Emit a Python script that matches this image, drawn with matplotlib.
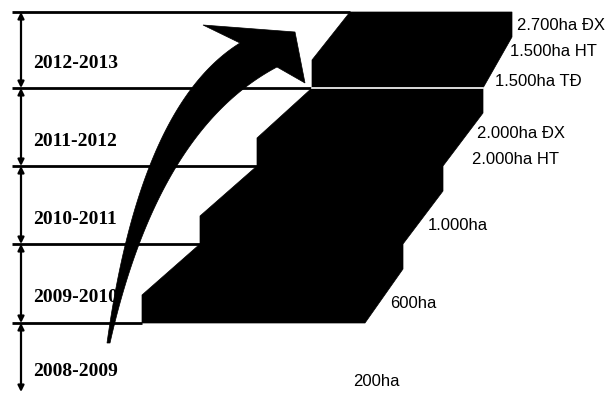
import numpy as np
import matplotlib
matplotlib.use("Agg")
import matplotlib.pyplot as plt
from matplotlib.patches import Polygon

# ---------------- data ----------------
seasons = ["2012-2013", "2011-2012", "2010-2011", "2009-2010", "2008-2009"]
area_labels = [
    ["2.700ha ĐX", "1.500ha HT", "1.500ha TĐ"],
    ["2.000ha ĐX", "2.000ha HT"],
    ["1.000ha"],
    ["600ha"],
    ["200ha"],
]

# ---------------- layout (pixel space) ----------------
W, H = 607, 397
row_edges = [12, 88, 166, 244, 323, 392]
stair_left = [350, 312, 257, 200, 142]
stair_right = [512, 483, 443, 403, 365]
riser_h = 28
right_drop = 25
label_pos = [
    [(517, 25), (510, 52), (495, 82)],
    [(477, 133), (472, 160)],
    [(428, 226)],
    [(390, 303)],
    [(353, 382)],
]
line_x0 = 12
arrow_x = 21

fig = plt.figure(figsize=(W / 100, H / 100), dpi=100)
ax = fig.add_axes([0, 0, 1, 1])
ax.set_xlim(0, W)
ax.set_ylim(H, 0)
ax.axis("off")

# staircase polygon
e = row_edges
n = 4
pts = [(stair_left[0], e[0])]
for r in range(n):
    pts.append((stair_right[r], e[r]))
    pts.append((stair_right[r], e[r] + right_drop))
pts.append((stair_right[n], e[n]))
for r in range(n - 1, -1, -1):
    pts.append((stair_left[r + 1], e[r + 1]))
    pts.append((stair_left[r + 1], e[r + 1] - riser_h))
pts.append((stair_left[0], e[0]))
ax.add_patch(Polygon(pts, closed=True, facecolor="black", edgecolor="black", lw=0.5, zorder=2))

# horizontal rule lines
for i in range(5):
    ax.plot([line_x0, stair_left[i]], [e[i], e[i]], color="black", lw=2.0, zorder=3,
            solid_capstyle="butt")
ax.plot([stair_left[1], stair_right[1]], [e[1], e[1]], color="white", lw=1.2, zorder=4)

# vertical double arrows and season labels
for r in range(5):
    ax.annotate("", xy=(arrow_x, e[r + 1]), xytext=(arrow_x, e[r]),
                arrowprops=dict(arrowstyle="<|-|>", color="black", lw=1.6,
                                mutation_scale=9, shrinkA=0, shrinkB=0), zorder=5)
    ax.text(33, (e[r] + e[r + 1]) / 2 + 14, seasons[r], fontsize=14,
            family="Liberation Serif", fontweight="bold", va="center", ha="left", zorder=6)

# area labels
for labs, poss in zip(area_labels, label_pos):
    for t, (x, y) in zip(labs, poss):
        ax.text(x, y, t, fontsize=12, family="Liberation Sans", va="center", ha="left", zorder=6)

# curved arrow
def qbez(p0, c, p2, t):
    p0, c, p2 = map(np.asarray, (p0, c, p2))
    t = t[:, None]
    return (1 - t) ** 2 * p0 + 2 * t * (1 - t) * c + t ** 2 * p2

t = np.linspace(0, 1, 80)
outer = qbez((107, 343), (140, 105), (240, 43), t)
inner = qbez((110, 343), (158, 130), (277, 67), t)
head = np.array([(240, 43), (203, 25), (295, 32), (305, 83), (277, 67)])
shape = np.vstack([outer, head[1:], inner[::-1]])
ax.add_patch(Polygon(shape, closed=True, facecolor="black", edgecolor="black", lw=0.5, zorder=5))

fig.savefig("out.png", dpi=100, facecolor="white")
